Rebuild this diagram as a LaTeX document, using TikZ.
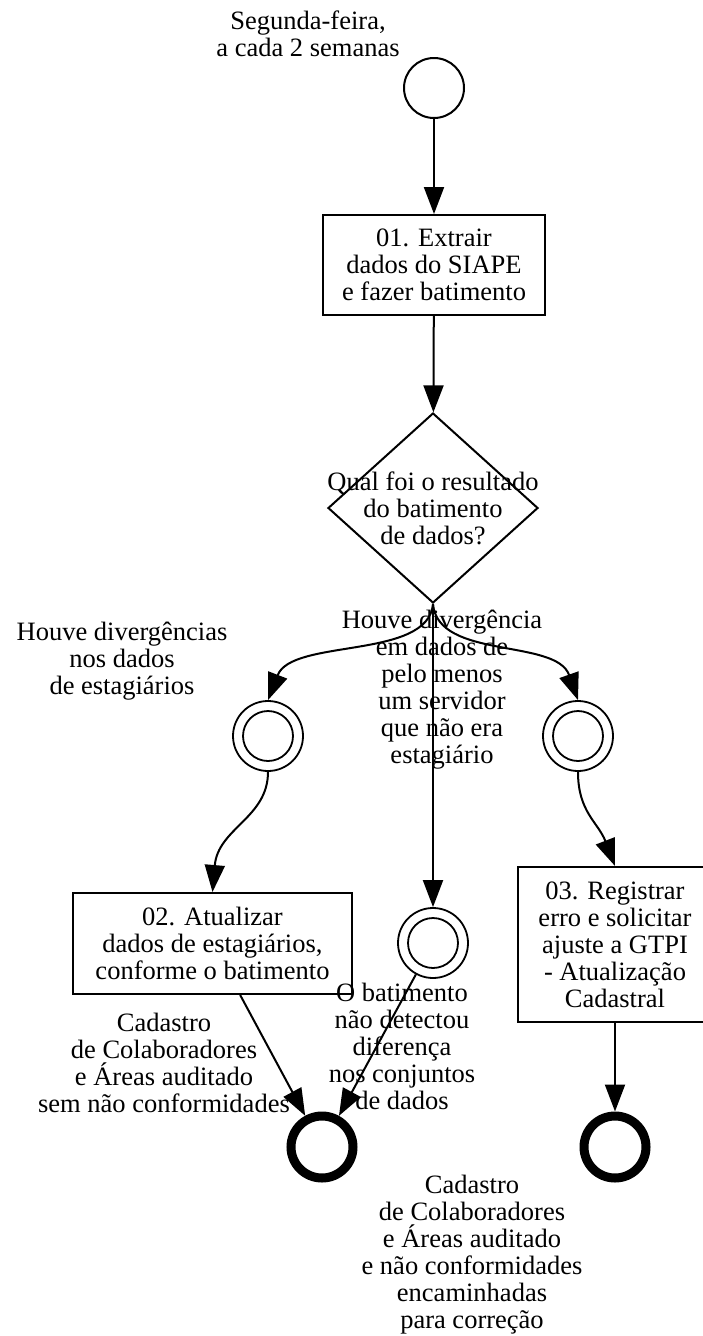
\documentclass[tikz,border=0pt]{standalone}
\usepackage{fontspec}
\setmainfont{Liberation Serif}
\usetikzlibrary{shapes.geometric,arrows.meta}

\begin{document}
\begin{tikzpicture}[x=1pt,y=-1pt,
  txt/.style={align=center, inner sep=0pt, font=\fontsize{26.5}{27}\selectfont},
  task/.style={draw, line width=2pt, inner sep=0pt, align=center, font=\fontsize{26.5}{27}\selectfont},
  gateway/.style={draw, diamond, line width=2pt, inner sep=0pt, minimum width=210, minimum height=190},
  evstart/.style={draw, circle, line width=2pt, inner sep=0pt, minimum size=60},
  evint/.style={draw, circle, line width=1.8pt, inner sep=0pt, minimum size=70},
  evend/.style={draw, circle, line width=9pt, inner sep=0pt, minimum size=62},
  flow/.style={line width=2pt, -{Triangle[length=27pt,width=20pt]}}]
\useasboundingbox (0,0) rectangle (702,1336);

% start and first task
\node [evstart] (start) at (434,88) {};
\node [txt] (startlbl) at (308,34) {Segunda-feira,\\a cada 2 semanas};
\node [task, minimum width=222, minimum height=100] (extrair) at (434,265)
  {01. Extrair\\dados do SIAPE\\e fazer batimento};

% gateway
\node [gateway] (decisao) at (433,508) {};
\node [txt] (decisaolbl) at (decisao) {Qual foi o resultado\\do batimento\\de dados?};

% intermediate events
\foreach \n/\x/\y in {evdiv/268/736, everro/578/736, evnodiff/433/943}{
  \node [evint] (\n) at (\x,\y) {};
  \draw [line width=1.8pt] (\n.center) circle [radius=25];
}

\node [txt] (divlbl) at (122,661) {Houve divergências\\nos dados\\de estagiários};
\node [txt] (errolbl) at (442,690) {Houve divergência\\em dados de\\pelo menos\\um servidor\\que não era\\estagiário};
\node [txt] (nodifflbl) at (402,1046) {O batimento\\não detectou\\diferença\\nos conjuntos\\de dados};

% tasks
\node [task, minimum width=279, minimum height=101] (atualizar) at (212.5,943.5)
  {02. Atualizar\\dados de estagiários,\\conforme o batimento};
\node [task, minimum width=194, minimum height=155] (registrar) at (615,944.5)
  {03. Registrar\\erro e solicitar\\ajuste a GTPI\\- Atualização\\Cadastral};

% end events
\node [evend] (fimok) at (322,1147) {};
\node [evend] (fimerro) at (615,1147) {};
\node [txt] (fimoklbl) at (164,1063) {Cadastro\\de Colaboradores\\e Áreas auditado\\sem não conformidades};
\node [txt] (fimerrolbl) at (472,1255) {Cadastro\\de Colaboradores\\e Áreas auditado\\e não conformidades\\encaminhadas\\para correção};

% flows
\draw [flow] (start) -- (extrair);
\draw [flow] (extrair) -- (decisao);
\draw [flow] (decisao.south) .. controls (428,660) and (292,638) .. (evdiv.north);
\draw [flow] (decisao.south) .. controls (438,660) and (556,638) .. (everro.north);
\draw [flow] (decisao.south) -- (evnodiff.north);
\draw [flow] (evdiv.south) .. controls (268,818) and (218,828) .. (atualizar.north);
\draw [flow] (everro.south) .. controls (578,812) and (598,822) .. (registrar.north);
\draw [flow] (evnodiff) -- (fimok);
\draw [flow] (atualizar) -- (fimok);
\draw [flow] (registrar) -- (fimerro);

\end{tikzpicture}
\end{document}
